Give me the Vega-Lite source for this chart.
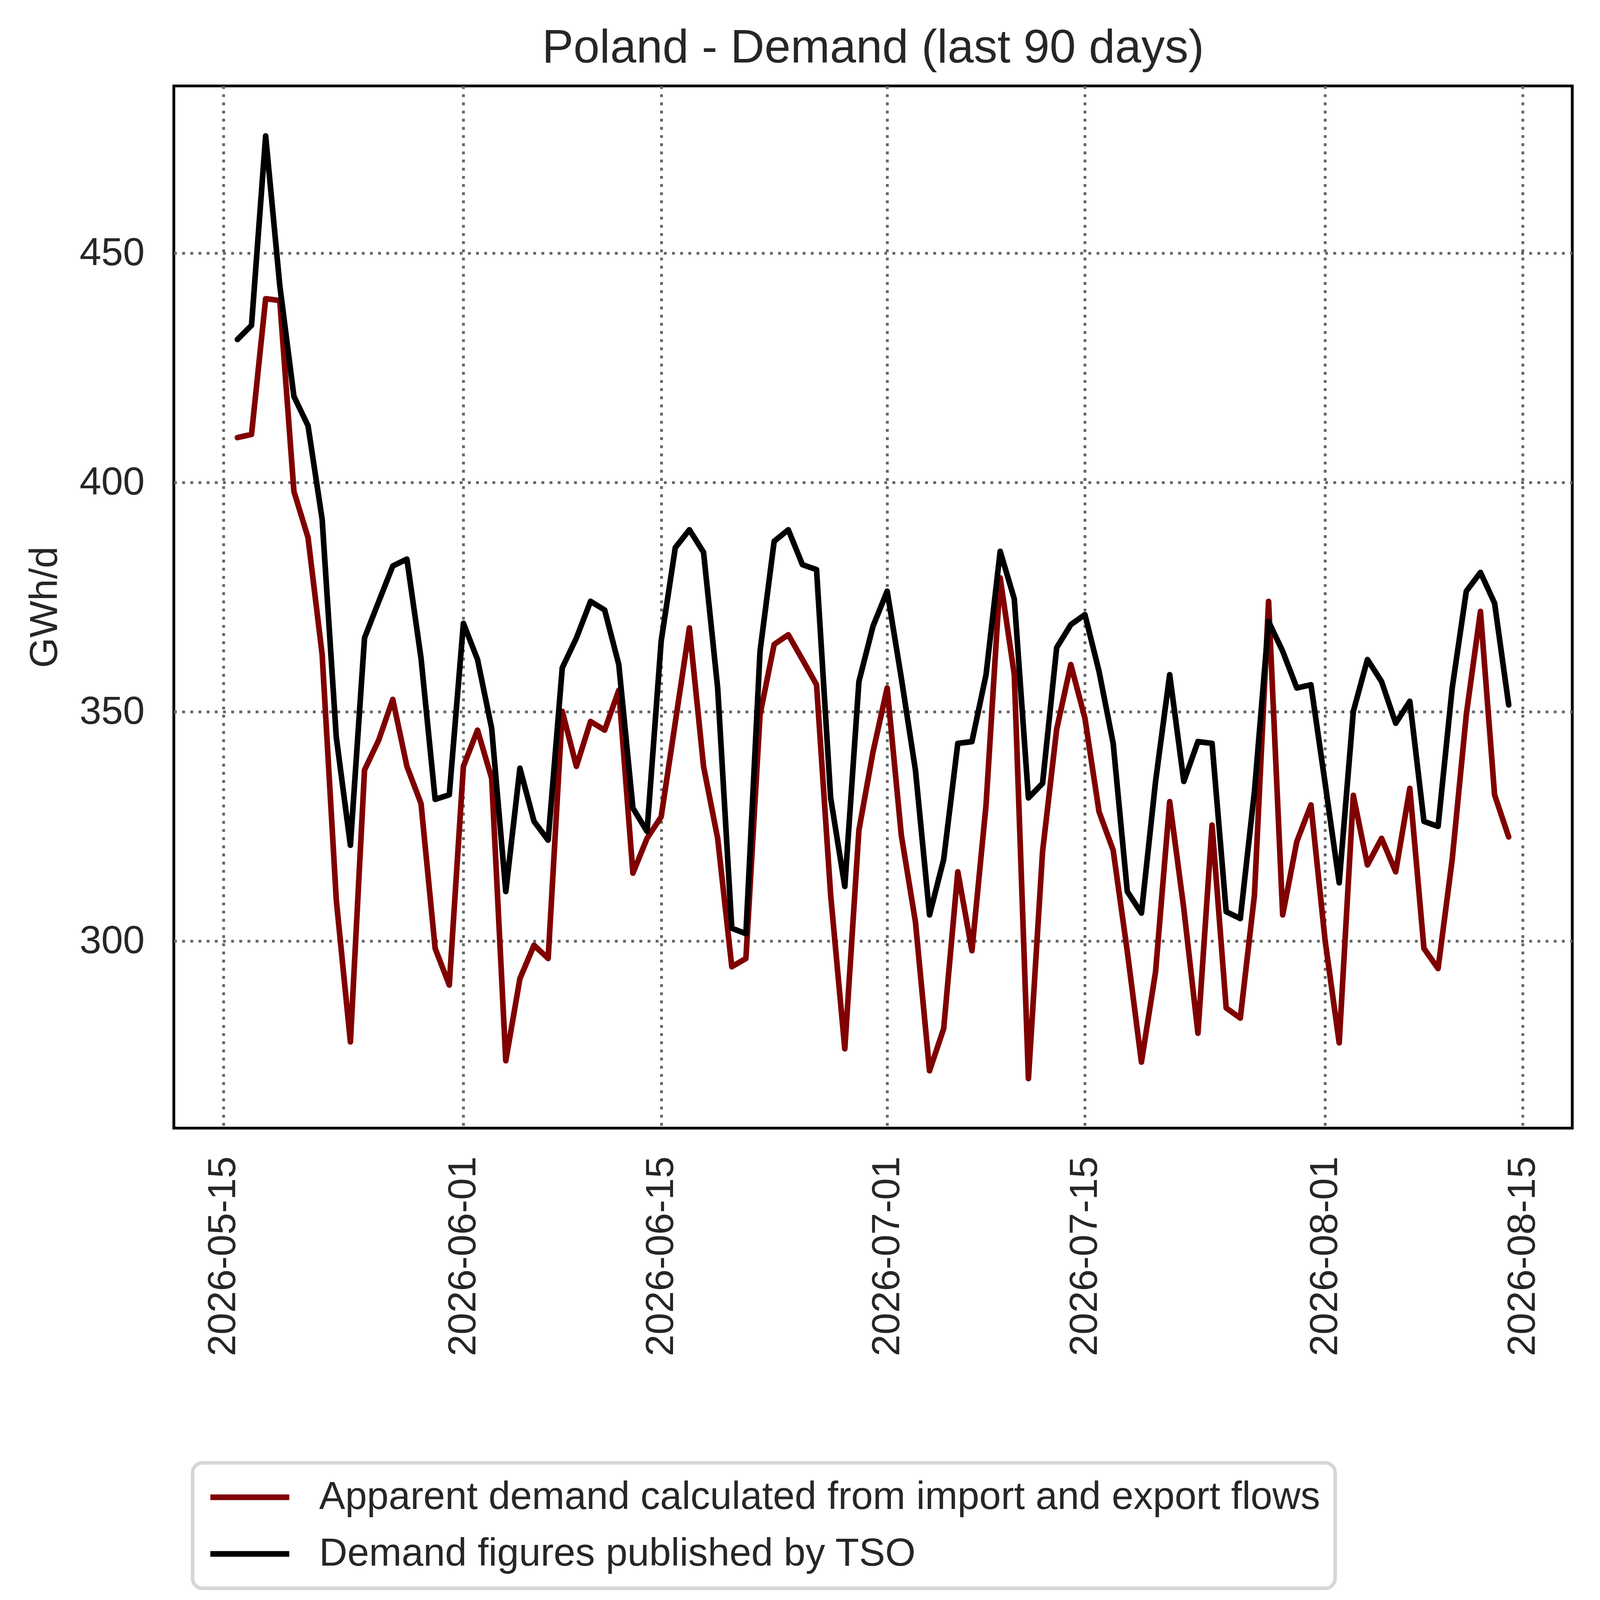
{
  "$schema": "https://vega.github.io/schema/vega-lite/v6.json",
  "autosize": {"type": "none"},
  "width": 3580,
  "height": 2668,
  "padding": {"left": 445, "top": 220, "right": 71, "bottom": 1241},
  "background": "#ffffff",
  "title": {
    "text": "Poland - Demand (last 90 days)",
    "fontSize": 120.5,
    "font": "Liberation Sans",
    "fontWeight": "normal",
    "color": "#262626",
    "anchor": "middle",
    "frame": "group",
    "baseline": "alphabetic",
    "offset": -60
  },
  "data": {
    "format": {"parse": {"date": "utc:'%Y-%m-%d'"}},
    "values": [
      {"date":"2026-05-16","series":"apparent","value":409.8},
      {"date":"2026-05-17","series":"apparent","value":410.5},
      {"date":"2026-05-18","series":"apparent","value":440.1},
      {"date":"2026-05-19","series":"apparent","value":439.7},
      {"date":"2026-05-20","series":"apparent","value":398.1},
      {"date":"2026-05-21","series":"apparent","value":388.0},
      {"date":"2026-05-22","series":"apparent","value":362.5},
      {"date":"2026-05-23","series":"apparent","value":309.0},
      {"date":"2026-05-24","series":"apparent","value":278.0},
      {"date":"2026-05-25","series":"apparent","value":337.3},
      {"date":"2026-05-26","series":"apparent","value":343.8},
      {"date":"2026-05-27","series":"apparent","value":352.7},
      {"date":"2026-05-28","series":"apparent","value":338.1},
      {"date":"2026-05-29","series":"apparent","value":330.0},
      {"date":"2026-05-30","series":"apparent","value":298.4},
      {"date":"2026-05-31","series":"apparent","value":290.4},
      {"date":"2026-06-01","series":"apparent","value":338.1},
      {"date":"2026-06-02","series":"apparent","value":346.0},
      {"date":"2026-06-03","series":"apparent","value":335.5},
      {"date":"2026-06-04","series":"apparent","value":273.9},
      {"date":"2026-06-05","series":"apparent","value":291.8},
      {"date":"2026-06-06","series":"apparent","value":299.1},
      {"date":"2026-06-07","series":"apparent","value":296.2},
      {"date":"2026-06-08","series":"apparent","value":350.1},
      {"date":"2026-06-09","series":"apparent","value":338.1},
      {"date":"2026-06-10","series":"apparent","value":347.9},
      {"date":"2026-06-11","series":"apparent","value":346.0},
      {"date":"2026-06-12","series":"apparent","value":354.7},
      {"date":"2026-06-13","series":"apparent","value":314.8},
      {"date":"2026-06-14","series":"apparent","value":322.4},
      {"date":"2026-06-15","series":"apparent","value":327.1},
      {"date":"2026-06-16","series":"apparent","value":347.7},
      {"date":"2026-06-17","series":"apparent","value":368.3},
      {"date":"2026-06-18","series":"apparent","value":338.1},
      {"date":"2026-06-19","series":"apparent","value":322.4},
      {"date":"2026-06-20","series":"apparent","value":294.4},
      {"date":"2026-06-21","series":"apparent","value":296.2},
      {"date":"2026-06-22","series":"apparent","value":349.4},
      {"date":"2026-06-23","series":"apparent","value":364.7},
      {"date":"2026-06-24","series":"apparent","value":366.8},
      {"date":"2026-06-25","series":"apparent","value":361.4},
      {"date":"2026-06-26","series":"apparent","value":355.9},
      {"date":"2026-06-27","series":"apparent","value":310.0},
      {"date":"2026-06-28","series":"apparent","value":276.5},
      {"date":"2026-06-29","series":"apparent","value":324.2},
      {"date":"2026-06-30","series":"apparent","value":341.3},
      {"date":"2026-07-01","series":"apparent","value":355.2},
      {"date":"2026-07-02","series":"apparent","value":323.1},
      {"date":"2026-07-03","series":"apparent","value":304.2},
      {"date":"2026-07-04","series":"apparent","value":271.7},
      {"date":"2026-07-05","series":"apparent","value":280.9},
      {"date":"2026-07-06","series":"apparent","value":315.1},
      {"date":"2026-07-07","series":"apparent","value":297.9},
      {"date":"2026-07-08","series":"apparent","value":329.7},
      {"date":"2026-07-09","series":"apparent","value":379.2},
      {"date":"2026-07-10","series":"apparent","value":358.1},
      {"date":"2026-07-11","series":"apparent","value":270.0},
      {"date":"2026-07-12","series":"apparent","value":319.5},
      {"date":"2026-07-13","series":"apparent","value":346.2},
      {"date":"2026-07-14","series":"apparent","value":360.3},
      {"date":"2026-07-15","series":"apparent","value":348.6},
      {"date":"2026-07-16","series":"apparent","value":328.2},
      {"date":"2026-07-17","series":"apparent","value":319.8},
      {"date":"2026-07-18","series":"apparent","value":297.7},
      {"date":"2026-07-19","series":"apparent","value":273.6},
      {"date":"2026-07-20","series":"apparent","value":293.3},
      {"date":"2026-07-21","series":"apparent","value":330.4},
      {"date":"2026-07-22","series":"apparent","value":307.1},
      {"date":"2026-07-23","series":"apparent","value":279.9},
      {"date":"2026-07-24","series":"apparent","value":325.3},
      {"date":"2026-07-25","series":"apparent","value":285.4},
      {"date":"2026-07-26","series":"apparent","value":283.2},
      {"date":"2026-07-27","series":"apparent","value":310.0},
      {"date":"2026-07-28","series":"apparent","value":374.1},
      {"date":"2026-07-29","series":"apparent","value":305.7},
      {"date":"2026-07-30","series":"apparent","value":321.7},
      {"date":"2026-07-31","series":"apparent","value":329.7},
      {"date":"2026-08-01","series":"apparent","value":300.2},
      {"date":"2026-08-02","series":"apparent","value":277.8},
      {"date":"2026-08-03","series":"apparent","value":331.8},
      {"date":"2026-08-04","series":"apparent","value":316.6},
      {"date":"2026-08-05","series":"apparent","value":322.4},
      {"date":"2026-08-06","series":"apparent","value":315.1},
      {"date":"2026-08-07","series":"apparent","value":333.3},
      {"date":"2026-08-08","series":"apparent","value":298.4},
      {"date":"2026-08-09","series":"apparent","value":294.0},
      {"date":"2026-08-10","series":"apparent","value":317.8},
      {"date":"2026-08-11","series":"apparent","value":349.4},
      {"date":"2026-08-12","series":"apparent","value":371.9},
      {"date":"2026-08-13","series":"apparent","value":331.9},
      {"date":"2026-08-14","series":"apparent","value":322.7},
      {"date":"2026-05-16","series":"tso","value":431.2},
      {"date":"2026-05-17","series":"tso","value":434.3},
      {"date":"2026-05-18","series":"tso","value":475.6},
      {"date":"2026-05-19","series":"tso","value":443.0},
      {"date":"2026-05-20","series":"tso","value":418.8},
      {"date":"2026-05-21","series":"tso","value":412.4},
      {"date":"2026-05-22","series":"tso","value":392.0},
      {"date":"2026-05-23","series":"tso","value":344.5},
      {"date":"2026-05-24","series":"tso","value":320.9},
      {"date":"2026-05-25","series":"tso","value":366.1},
      {"date":"2026-05-26","series":"tso","value":374.0},
      {"date":"2026-05-27","series":"tso","value":381.8},
      {"date":"2026-05-28","series":"tso","value":383.3},
      {"date":"2026-05-29","series":"tso","value":361.7},
      {"date":"2026-05-30","series":"tso","value":330.9},
      {"date":"2026-05-31","series":"tso","value":331.9},
      {"date":"2026-06-01","series":"tso","value":369.3},
      {"date":"2026-06-02","series":"tso","value":361.4},
      {"date":"2026-06-03","series":"tso","value":346.4},
      {"date":"2026-06-04","series":"tso","value":310.8},
      {"date":"2026-06-05","series":"tso","value":337.7},
      {"date":"2026-06-06","series":"tso","value":326.1},
      {"date":"2026-06-07","series":"tso","value":322.0},
      {"date":"2026-06-08","series":"tso","value":359.6},
      {"date":"2026-06-09","series":"tso","value":366.1},
      {"date":"2026-06-10","series":"tso","value":374.1},
      {"date":"2026-06-11","series":"tso","value":372.2},
      {"date":"2026-06-12","series":"tso","value":360.3},
      {"date":"2026-06-13","series":"tso","value":329.0},
      {"date":"2026-06-14","series":"tso","value":323.9},
      {"date":"2026-06-15","series":"tso","value":365.4},
      {"date":"2026-06-16","series":"tso","value":385.8},
      {"date":"2026-06-17","series":"tso","value":389.7},
      {"date":"2026-06-18","series":"tso","value":384.8},
      {"date":"2026-06-19","series":"tso","value":355.2},
      {"date":"2026-06-20","series":"tso","value":302.8},
      {"date":"2026-06-21","series":"tso","value":301.6},
      {"date":"2026-06-22","series":"tso","value":363.2},
      {"date":"2026-06-23","series":"tso","value":387.2},
      {"date":"2026-06-24","series":"tso","value":389.7},
      {"date":"2026-06-25","series":"tso","value":382.1},
      {"date":"2026-06-26","series":"tso","value":381.0},
      {"date":"2026-06-27","series":"tso","value":331.2},
      {"date":"2026-06-28","series":"tso","value":311.9},
      {"date":"2026-06-29","series":"tso","value":356.6},
      {"date":"2026-06-30","series":"tso","value":368.7},
      {"date":"2026-07-01","series":"tso","value":376.3},
      {"date":"2026-07-02","series":"tso","value":357.4},
      {"date":"2026-07-03","series":"tso","value":337.3},
      {"date":"2026-07-04","series":"tso","value":305.7},
      {"date":"2026-07-05","series":"tso","value":317.8},
      {"date":"2026-07-06","series":"tso","value":343.1},
      {"date":"2026-07-07","series":"tso","value":343.5},
      {"date":"2026-07-08","series":"tso","value":358.1},
      {"date":"2026-07-09","series":"tso","value":385.0},
      {"date":"2026-07-10","series":"tso","value":374.6},
      {"date":"2026-07-11","series":"tso","value":331.2},
      {"date":"2026-07-12","series":"tso","value":334.4},
      {"date":"2026-07-13","series":"tso","value":364.0},
      {"date":"2026-07-14","series":"tso","value":369.0},
      {"date":"2026-07-15","series":"tso","value":371.2},
      {"date":"2026-07-16","series":"tso","value":358.8},
      {"date":"2026-07-17","series":"tso","value":343.1},
      {"date":"2026-07-18","series":"tso","value":310.8},
      {"date":"2026-07-19","series":"tso","value":306.1},
      {"date":"2026-07-20","series":"tso","value":334.8},
      {"date":"2026-07-21","series":"tso","value":358.1},
      {"date":"2026-07-22","series":"tso","value":334.8},
      {"date":"2026-07-23","series":"tso","value":343.5},
      {"date":"2026-07-24","series":"tso","value":343.1},
      {"date":"2026-07-25","series":"tso","value":306.4},
      {"date":"2026-07-26","series":"tso","value":304.9},
      {"date":"2026-07-27","series":"tso","value":332.6},
      {"date":"2026-07-28","series":"tso","value":369.7},
      {"date":"2026-07-29","series":"tso","value":363.2},
      {"date":"2026-07-30","series":"tso","value":355.2},
      {"date":"2026-07-31","series":"tso","value":355.9},
      {"date":"2026-08-01","series":"tso","value":334.5},
      {"date":"2026-08-02","series":"tso","value":312.7},
      {"date":"2026-08-03","series":"tso","value":350.1},
      {"date":"2026-08-04","series":"tso","value":361.4},
      {"date":"2026-08-05","series":"tso","value":356.6},
      {"date":"2026-08-06","series":"tso","value":347.5},
      {"date":"2026-08-07","series":"tso","value":352.3},
      {"date":"2026-08-08","series":"tso","value":326.1},
      {"date":"2026-08-09","series":"tso","value":325.0},
      {"date":"2026-08-10","series":"tso","value":355.2},
      {"date":"2026-08-11","series":"tso","value":376.3},
      {"date":"2026-08-12","series":"tso","value":380.4},
      {"date":"2026-08-13","series":"tso","value":373.7},
      {"date":"2026-08-14","series":"tso","value":351.5}
    ]
  },
  "encoding": {
    "x": {
      "field": "date",
      "type": "temporal",
      "scale": {
        "type": "utc",
        "domain": [
          {"year": 2026, "month": 5, "date": 11, "hours": 12, "utc": true},
          {"year": 2026, "month": 8, "date": 18, "hours": 12, "utc": true}
        ]
      },
      "axis": {
        "title": null,
        "format": "%Y-%m-%d",
        "values": [
          {"year": 2026, "month": 5, "date": 15, "utc": true},
          {"year": 2026, "month": 6, "date": 1, "utc": true},
          {"year": 2026, "month": 6, "date": 15, "utc": true},
          {"year": 2026, "month": 7, "date": 1, "utc": true},
          {"year": 2026, "month": 7, "date": 15, "utc": true},
          {"year": 2026, "month": 8, "date": 1, "utc": true},
          {"year": 2026, "month": 8, "date": 15, "utc": true}
        ],
        "labelAngle": 270,
        "labelPadding": 72,
        "labelFlush": false,
        "labelOverlap": false
      }
    },
    "y": {
      "field": "value",
      "type": "quantitative",
      "scale": {"domain": [259.2, 486.5], "zero": false, "nice": false},
      "axis": {
        "title": "GWh/d",
        "values": [300, 350, 400, 450],
        "labelPadding": 75,
        "labelFlush": false,
        "titlePadding": 79
      }
    },
    "color": {
      "field": "series",
      "type": "nominal",
      "scale": {"domain": ["apparent", "tso"], "range": ["#800000", "#000000"]},
      "legend": {
        "title": null,
        "orient": "none",
        "legendX": 48,
        "legendY": 3525,
        "direction": "vertical",
        "labelExpr": "datum.label == 'apparent' ? 'Apparent demand calculated from import and export flows' : 'Demand figures published by TSO'",
        "labelFont": "Liberation Sans",
        "labelFontSize": 100,
        "labelColor": "#262626",
        "labelLimit": 0,
        "labelOffset": 69,
        "symbolType": "stroke",
        "symbolSize": 40804,
        "symbolStrokeWidth": 14.4,
        "clipHeight": 100,
        "rowPadding": 45,
        "padding": 38,
        "strokeColor": "#d6d6d6",
        "cornerRadius": 25,
        "fillColor": "#ffffff"
      }
    }
  },
  "layer": [
    {
      "transform": [{"filter": "datum.series == 'apparent'"}],
      "mark": {"type": "line", "strokeWidth": 14.4, "strokeJoin": "round", "strokeCap": "round"}
    },
    {
      "transform": [{"filter": "datum.series == 'tso'"}],
      "mark": {"type": "line", "strokeWidth": 14.4, "strokeJoin": "round", "strokeCap": "round"}
    }
  ],
  "config": {
    "font": "Liberation Sans",
    "view": {"stroke": "#000000", "strokeWidth": 7.2},
    "legend": {"strokeWidth": 9},
    "axis": {
      "domain": false,
      "ticks": false,
      "tickSize": 0,
      "grid": true,
      "gridColor": "#666666",
      "gridWidth": 7.2,
      "gridDash": [7.2, 13.7],
      "gridOpacity": 1,
      "labelLimit": 0,
      "labelFont": "Liberation Sans",
      "labelFontSize": 100,
      "labelColor": "#262626",
      "titleFont": "Liberation Sans",
      "titleFontSize": 100,
      "titleFontWeight": "normal",
      "titleColor": "#262626"
    }
  }
}
